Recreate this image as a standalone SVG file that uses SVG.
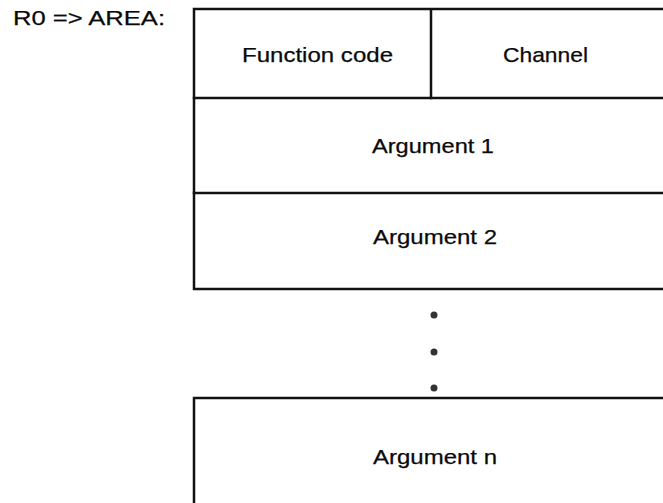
<svg xmlns="http://www.w3.org/2000/svg" width="663" height="503" viewBox="0 0 663 503">
<style>
.ln{stroke:#111;stroke-width:2.5;fill:none;stroke-linecap:square}
.t{font-family:"Liberation Sans",Arial,sans-serif;font-size:21px;fill:#0a0a0a;stroke:#0a0a0a;stroke-width:0.25}
.dot{fill:#333}
</style>
<rect width="663" height="503" fill="#fff"/>
<text class="t" x="13" y="25" textLength="152" lengthAdjust="spacingAndGlyphs">R0 =&gt; AREA:</text>
<g id="connectors"/>
<g id="row1">
<path class="ln" d="M194,9 H663 M194,9 V98 M431,9 V98"/>
</g>
<g id="funccode"><text class="t" x="242" y="62" textLength="151" lengthAdjust="spacingAndGlyphs">Function code</text></g>
<g id="channel"><text class="t" x="503" y="62" textLength="85" lengthAdjust="spacingAndGlyphs">Channel</text></g>
<g id="arg1">
<path class="ln" d="M194,98 H663 M194,98 V193"/>
<text class="t" x="372" y="153" textLength="122" lengthAdjust="spacingAndGlyphs">Argument 1</text>
</g>
<g id="arg2">
<path class="ln" d="M194,193 H663 M194,193 V289 H663"/>
<text class="t" x="373" y="244" textLength="124" lengthAdjust="spacingAndGlyphs">Argument 2</text>
</g>
<g id="dots">
<circle class="dot" cx="434" cy="315" r="3.5"/>
<circle class="dot" cx="434" cy="352" r="3.5"/>
<circle class="dot" cx="434" cy="388" r="3.5"/>
</g>
<g id="argn">
<path class="ln" d="M194,503 V398 H663"/>
<text class="t" x="373" y="464" textLength="124" lengthAdjust="spacingAndGlyphs">Argument n</text>
</g>
</svg>
